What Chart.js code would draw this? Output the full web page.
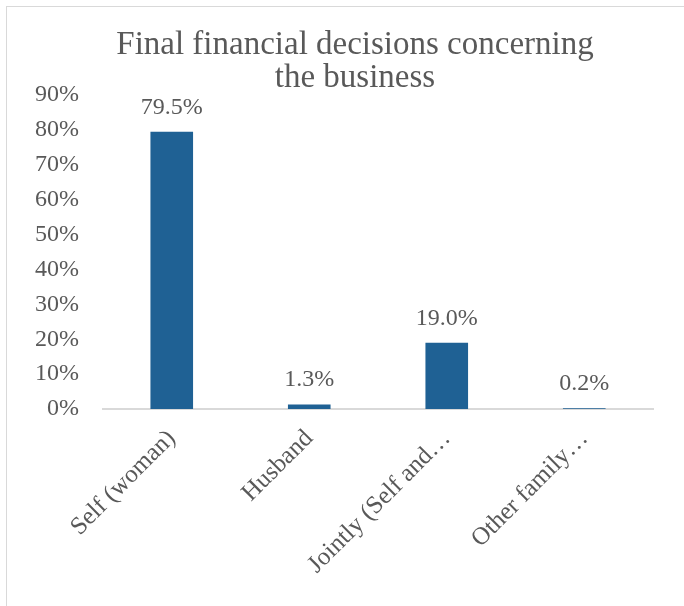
<!DOCTYPE html>
<html>
<head>
<meta charset="utf-8">
<script src="https://cdn.jsdelivr.net/npm/chart.js@4.4.1/dist/chart.umd.min.js"></script>
<style>
  html, body { margin: 0; padding: 0; background: #fff; overflow: hidden; }
  #wrap { position: relative; width: 684px; height: 606px; }
  #frame { position: absolute; left: 6px; top: 6px; width: 700px; height: 620px; border: 1px solid #d9d9d9; }
  #myChart { position: absolute; left: 0; top: 0; }
</style>
</head>
<body>
<div id="wrap">
  <div id="frame"></div>
  <canvas id="myChart" width="684" height="606"></canvas>
</div>
<script>
// 最終的な財務判断の担い手（割合 %）
const categories = ['Self (woman)', 'Husband', 'Jointly (Self and\u2026', 'Other family\u2026'];
const shares = [79.5, 1.3, 19.0, 0.2];
const yTicks = [0, 10, 20, 30, 40, 50, 60, 70, 80, 90];

const textColor = '#595959';
const fontFamily = '"Liberation Serif", "DejaVu Serif", serif';

// 棒の上に値ラベルを描く
const valueLabels = {
    id: 'valueLabels',
    afterDatasetsDraw(chart) {
        const ctx = chart.ctx;
        const meta = chart.getDatasetMeta(0);
        ctx.save();
        ctx.fillStyle = textColor;
        ctx.font = '24px ' + fontFamily;
        ctx.textAlign = 'center';
        ctx.textBaseline = 'alphabetic';
        meta.data.forEach((bar, i) => {
            ctx.fillText(shares[i].toFixed(1) + '%', bar.x, bar.y - 18);
        });
        ctx.restore();
    }
};

// タイトルを枠の中央に寄せる（左端だけずらす）
const titleShift = {
    id: 'titleShift',
    afterLayout(chart) {
        if (chart.titleBlock) chart.titleBlock.left = 57;
    }
};

document.addEventListener('DOMContentLoaded', function() {
    const ctx = document.getElementById('myChart').getContext('2d');
    new Chart(ctx, {
        type: 'bar',
        data: {
            labels: categories,
            datasets: [{
                data: shares,
                backgroundColor: '#1f6194',
                borderWidth: 0,
                categoryPercentage: 1,
                barPercentage: 0.31
            }]
        },
        options: {
            responsive: false,
            animation: false,
            layout: { padding: { left: 0, right: 31, top: 0, bottom: 0 } },
            plugins: {
                legend: { display: false },
                tooltip: { enabled: false },
                title: {
                    display: true,
                    text: ['Final financial decisions concerning', 'the business'],
                    color: textColor,
                    font: { family: fontFamily, size: 33, weight: 'normal', lineHeight: 1.0 },
                    padding: { top: 29, bottom: 0 }
                }
            },
            scales: {
                x: {
                    grid: { display: false, drawTicks: false },
                    border: { display: true, color: '#d9d9d9', width: 2 },
                    ticks: {
                        color: textColor,
                        font: { family: fontFamily, size: 25 },
                        minRotation: 45,
                        maxRotation: 45,
                        padding: 15,
                        autoSkip: false
                    },
                    afterFit(scale) { scale.height = 197; }
                },
                y: {
                    min: 0,
                    max: 90,
                    grid: { display: false, drawTicks: false },
                    border: { display: false },
                    afterBuildTicks(scale) { scale.ticks = yTicks.map(v => ({ value: v })); },
                    ticks: {
                        color: textColor,
                        font: { family: fontFamily, size: 24 },
                        padding: 24,
                        callback: v => v + '%'
                    },
                    afterFit(scale) { scale.width = 103; }
                }
            }
        },
        plugins: [valueLabels, titleShift]
    });
});
</script>
</body>
</html>
